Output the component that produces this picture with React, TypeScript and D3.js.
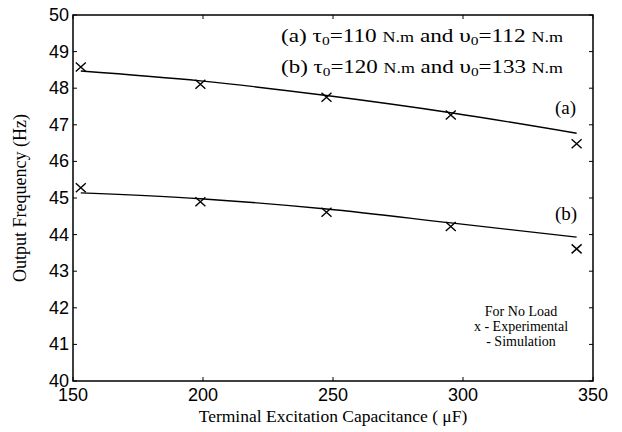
import React from "react";
import * as d3 from "d3";

const capacitance = [153, 199, 247.5, 295.3, 343.7];
const expA = [48.58, 48.11, 47.75, 47.27, 46.48];
const expB = [45.28, 44.9, 44.61, 44.22, 43.61];
const simA = [48.47, 48.2, 47.8, 47.33, 46.77];
const simB = [45.14, 44.98, 44.7, 44.32, 43.93];
const xTicks = [150, 200, 250, 300, 350];
const yTicks = [40, 41, 42, 43, 44, 45, 46, 47, 48, 49, 50];

const W = 622;
const H = 432;
const M = { left: 73, right: 29, top: 15, bottom: 51 };
const serif = "'Liberation Serif', 'Times New Roman', serif";
const sans = "'Liberation Sans', Arial, sans-serif";

export default function App() {
  const x = d3.scaleLinear().domain([150, 350]).range([M.left, W - M.right]);
  const y = d3.scaleLinear().domain([40, 50]).range([H - M.bottom, M.top]);
  const line = d3
    .line<number>()
    .x((_, i) => x(capacitance[i]))
    .y((d) => y(d))
    .curve(d3.curveMonotoneX);

  const x0 = x(150), x1 = x(350), y0 = y(40), y1 = y(50);
  const tick = 4;

  const cross = (cx: number, cy: number, k: string) => (
    <path
      key={k}
      d={`M${cx - 5},${cy - 4.5}L${cx + 5},${cy + 4.5}M${cx - 5},${cy + 4.5}L${cx + 5},${cy - 4.5}`}
      stroke="#000"
      strokeWidth={1.4}
      fill="none"
    />
  );

  return (
    <svg
      width={W}
      height={H}
      style={{ position: "absolute", left: 0, top: 0, background: "#fff" }}
    >
      <rect x={x0} y={y1} width={x1 - x0} height={y0 - y1} fill="none" stroke="#000" strokeWidth={1.5} />
      {xTicks.map((t) => (
        <g key={`xt${t}`}>
          <line x1={x(t)} x2={x(t)} y1={y0} y2={y0 - tick} stroke="#000" />
          <line x1={x(t)} x2={x(t)} y1={y1} y2={y1 + tick} stroke="#000" />
          <text x={x(t)} y={y0 + 20} textAnchor="middle" fontFamily={sans} fontSize={18}>
            {t}
          </text>
        </g>
      ))}
      {yTicks.map((t) => (
        <g key={`yt${t}`}>
          <line x1={x0} x2={x0 + tick} y1={y(t)} y2={y(t)} stroke="#000" />
          <line x1={x1} x2={x1 - tick} y1={y(t)} y2={y(t)} stroke="#000" />
          <text x={x0 - 4} y={y(t) + 6} textAnchor="end" fontFamily={sans} fontSize={18}>
            {t}
          </text>
        </g>
      ))}

      <path d={line(simA) || ""} fill="none" stroke="#000" strokeWidth={1.4} />
      <path d={line(simB) || ""} fill="none" stroke="#000" strokeWidth={1.4} />
      {expA.map((v, i) => cross(x(capacitance[i]), y(v), `a${i}`))}
      {expB.map((v, i) => cross(x(capacitance[i]), y(v), `b${i}`))}

      <text x={281} y={42} fontFamily={serif} fontSize={18} textLength={282} lengthAdjust="spacingAndGlyphs">
        (a) τ<tspan fontSize={12} dy={3}>0</tspan>
        <tspan dy={-3}>=110 </tspan>
        <tspan fontSize={14}>N.m</tspan> and  υ<tspan fontSize={12} dy={3}>0</tspan>
        <tspan dy={-3}>=112 </tspan>
        <tspan fontSize={14}>N.m</tspan>
      </text>
      <text x={281} y={73} fontFamily={serif} fontSize={18} textLength={282} lengthAdjust="spacingAndGlyphs">
        (b) τ<tspan fontSize={12} dy={3}>0</tspan>
        <tspan dy={-3}>=120 </tspan>
        <tspan fontSize={14}>N.m</tspan> and υ<tspan fontSize={12} dy={3}>0</tspan>
        <tspan dy={-3}>=133 </tspan>
        <tspan fontSize={14}>N.m</tspan>
      </text>

      <text x={555} y={114} fontFamily={serif} fontSize={19}>(a)</text>
      <text x={555} y={220} fontFamily={serif} fontSize={19}>(b)</text>

      <g fontFamily={serif} fontSize={14} textAnchor="middle">
        <text x={521} y={316}>For No Load</text>
        <text x={521} y={331}>x - Experimental</text>
        <text x={521} y={346}>- Simulation</text>
      </g>

      <text x={(x0 + x1) / 2} y={422} textAnchor="middle" fontFamily={serif} fontSize={17.5}>
        Terminal Excitation Capacitance ( μF)
      </text>
      <text
        transform={`translate(26,${(y0 + y1) / 2}) rotate(-90)`}
        textAnchor="middle"
        fontFamily={serif}
        fontSize={18}
      >
        Output Frequency (Hz)
      </text>
    </svg>
  );
}
